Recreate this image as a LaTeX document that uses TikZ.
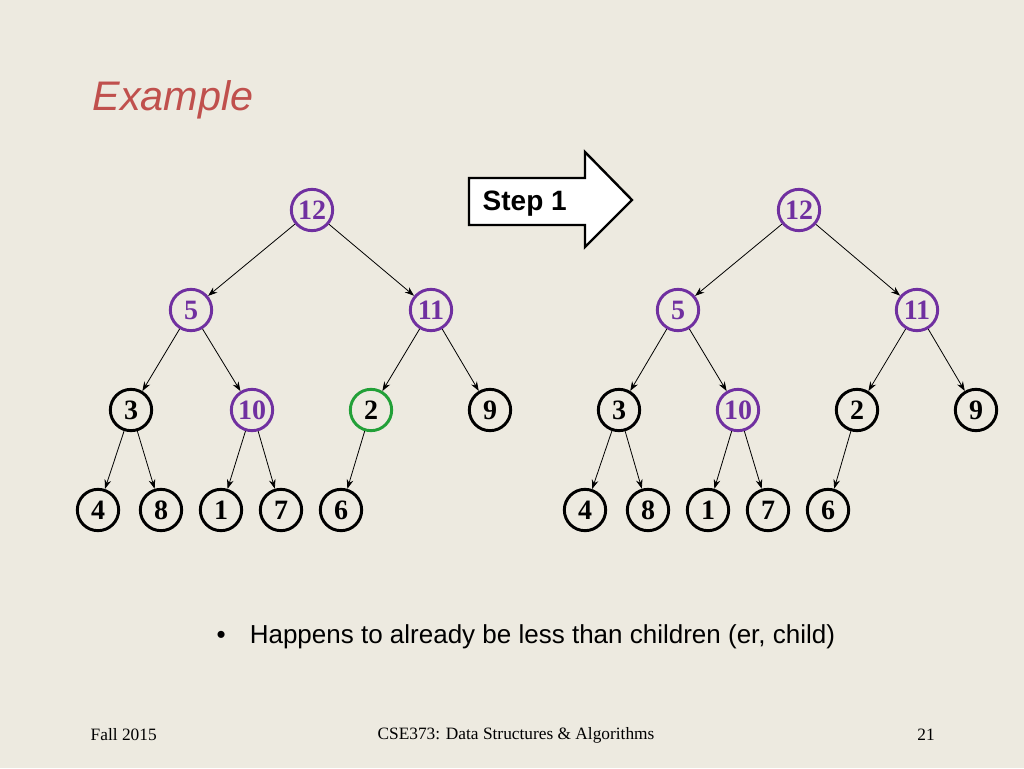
\documentclass[tikz,border=0pt]{standalone}
\usepackage{fontspec}
\setmainfont{Liberation Serif}
\setsansfont{Liberation Sans}
\usetikzlibrary{arrows.meta}
\definecolor{bg}{HTML}{EDEAE0}
\definecolor{ttl}{HTML}{C0504D}
\definecolor{purp}{HTML}{7030A0}
\definecolor{grn}{HTML}{22A038}
\tikzset{
 hn/.style={circle,draw=black,line width=2.2pt,fill=bg,minimum size=31pt,inner sep=0pt,font=\bfseries\fontsize{21}{21}\selectfont},
 pn/.style={hn,draw=purp,text=purp},
 gn/.style={hn,draw=grn},
 ed/.style={-{Stealth[length=7pt,width=5pt]},line width=0.6pt},
}
\begin{document}
\begin{tikzpicture}[x=0.75pt,y=-0.75pt]
\fill[bg] (0,0) rectangle (1024,768);
\useasboundingbox (0,0) rectangle (1024,768);
\node[anchor=west,text=ttl,font=\sffamily\itshape\fontsize{31}{31}\selectfont] (title) at (88,100) {Example};
% left tree
\node[pn] (a1) at (312,210) {12};
\node[pn] (a2) at (191,310) {5};
\node[pn] (a3) at (431,310) {11};
\node[hn] (a4) at (131,410) {3};
\node[pn] (a5) at (252,410) {10};
\node[gn] (a6) at (371,410) {2};
\node[hn] (a7) at (490,410) {9};
\node[hn] (a8) at (98,510) {4};
\node[hn] (a9) at (161,510) {8};
\node[hn] (a10) at (221,510) {1};
\node[hn] (a11) at (281,510) {7};
\node[hn] (a12) at (341,510) {6};
% right tree
\node[pn] (b1) at (799,210) {12};
\node[pn] (b2) at (678,310) {5};
\node[pn] (b3) at (917,310) {11};
\node[hn] (b4) at (619,410) {3};
\node[pn] (b5) at (738,410) {10};
\node[hn] (b6) at (857,410) {2};
\node[hn] (b7) at (976,410) {9};
\node[hn] (b8) at (585,510) {4};
\node[hn] (b9) at (648,510) {8};
\node[hn] (b10) at (708,510) {1};
\node[hn] (b11) at (768,510) {7};
\node[hn] (b12) at (828,510) {6};
\foreach \t in {a,b}{
 \draw[ed] (\t1) -- (\t2); \draw[ed] (\t1) -- (\t3);
 \draw[ed] (\t2) -- (\t4); \draw[ed] (\t2) -- (\t5);
 \draw[ed] (\t3) -- (\t6); \draw[ed] (\t3) -- (\t7);
 \draw[ed] (\t4) -- (\t8); \draw[ed] (\t4) -- (\t9);
 \draw[ed] (\t5) -- (\t10); \draw[ed] (\t5) -- (\t11);
 \draw[ed] (\t6) -- (\t12);
}
\draw[fill=white,line width=1.8pt] (469,178) -- (585,178) -- (585,152) -- (632,200) -- (585,247) -- (585,225) -- (469,225) -- cycle;
\node[anchor=west,font=\sffamily\bfseries\fontsize{21}{21}\selectfont] (step) at (478,204) {Step 1};
\node[anchor=west,font=\sffamily\fontsize{19.5}{19.5}\selectfont] (bul) at (212,637) {\textbullet\hspace{18pt}Happens to already be less than children (er, child)};
\node[anchor=west,font=\fontsize{13}{13}\selectfont] (f1) at (86,735) {Fall 2015};
\node[font=\fontsize{13}{13}\selectfont] (f2) at (516,735) {CSE373: Data Structures \& Algorithms};
\node[font=\fontsize{13}{13}\selectfont] (f3) at (926,735) {21};
\end{tikzpicture}
\end{document}
